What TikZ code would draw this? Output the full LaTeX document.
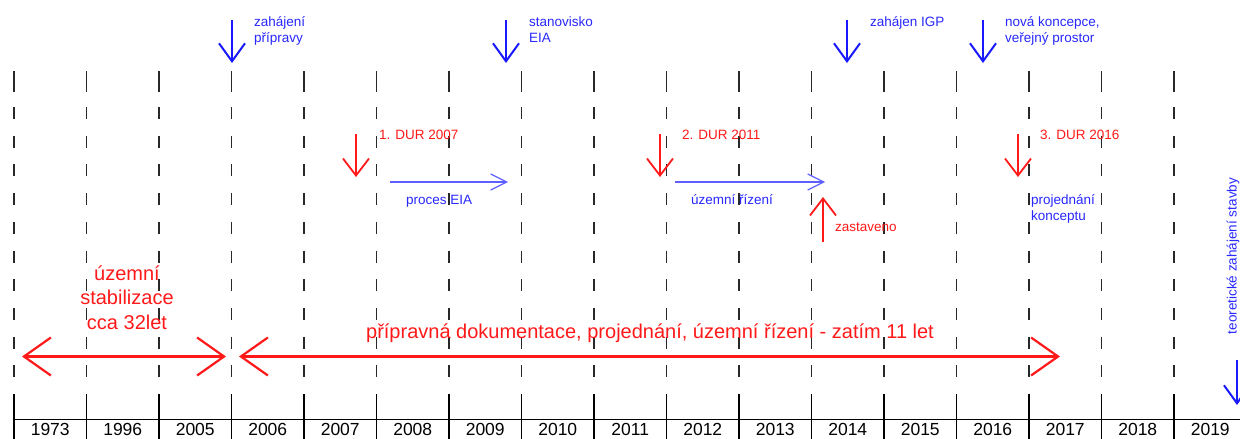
\documentclass[tikz,border=0pt]{standalone}
\usepackage{fontspec}
\setmainfont{Liberation Sans}
\usetikzlibrary{arrows.meta}
\definecolor{myblue}{RGB}{25,25,255}
\definecolor{lblue}{RGB}{95,95,255}
\definecolor{tblue}{RGB}{40,40,255}
\definecolor{myred}{RGB}{255,25,25}
\definecolor{dgray}{RGB}{40,40,40}
\newcommand{\twoline}[2]{\begin{tabular}[t]{@{}l@{}}#1\\#2\end{tabular}}
\begin{document}
\begin{tikzpicture}[x=1pt,y=-1pt,
  dl/.style={draw=dgray,line width=1.5pt},
  bigarrow/.style={draw=myred,line width=2.2pt,{Straight Barb[length=27pt,width=38pt]}-{Straight Barb[length=27pt,width=38pt]}},
  bluedown/.style={draw=myblue,line width=2pt,-{Straight Barb[length=18pt,width=26pt]}},
  reddown/.style={draw=myred,line width=1.8pt,-{Straight Barb[length=17pt,width=26pt]}},
  thinblue/.style={draw=lblue,line width=1.2pt,-{Straight Barb[length=16pt,width=16pt]}},
  small/.style={inner sep=0pt,anchor=base west,font=\fontsize{13.5}{16}\selectfont},
  bluelab/.style={small,text=tblue},
  redlab/.style={small,text=myred},
  year/.style={inner sep=0pt,anchor=base,font=\fontsize{17.5}{20}\selectfont,text=black},
  bigred/.style={inner sep=0pt,text=myred,font=\fontsize{20}{24.5}\selectfont}]
\useasboundingbox (0,0) rectangle (1240,439);
\fill[white] (0,0) rectangle (1240,439);
% dashed year lines
\foreach \i in {0,...,16}{
  \pgfmathsetmacro\xx{14+72.5*\i}
  \draw[dl] (\xx,71) -- (\xx,92);
  \draw[dl,dash pattern=on 12pt off 16.7pt] (\xx,107) -- (\xx,378);
  \draw[draw=black,line width=1.5pt] (\xx,394) -- (\xx,445);
}
% axis
\coordinate (axL) at (14,419.5);
\coordinate (axR) at (1241,419.5);
\draw[black,line width=1.5pt] (axL) -- (axR);
% year labels
\foreach \yr [count=\i from 0] in {1973,1996,2005,2006,2007,2008,2009,2010,2011,2012,2013,2014,2015,2016,2017,2018,2019}{
  \pgfmathsetmacro\xc{14+72.5*\i+36.25}
  \node[year] (y\i) at (\xc,435.8) {\yr};
}
% top blue arrows
\coordinate (b1s) at (232,20); \coordinate (b1e) at (232,63);
\coordinate (b2s) at (506,20); \coordinate (b2e) at (506,63);
\coordinate (b3s) at (847,20); \coordinate (b3e) at (847,63);
\coordinate (b4s) at (983,20); \coordinate (b4e) at (983,63);
\draw[bluedown] (b1s) -- (b1e);
\draw[bluedown] (b2s) -- (b2e);
\draw[bluedown] (b3s) -- (b3e);
\draw[bluedown] (b4s) -- (b4e);
\node[bluelab] (t1) at (254,27) {\twoline{zahájení}{přípravy}};
\node[bluelab] (t2) at (529,27) {\twoline{stanovisko}{EIA}};
\node[bluelab] (t3) at (870,27) {zahájen IGP};
\node[bluelab] (t4) at (1005,27) {\twoline{nová koncepce,}{veřejný prostor}};
% red DUR arrows
\coordinate (r1s) at (356,134); \coordinate (r1e) at (356,177);
\coordinate (r2s) at (660,134); \coordinate (r2e) at (660,177);
\coordinate (r3s) at (1018,134); \coordinate (r3e) at (1018,177);
\draw[reddown] (r1s) -- (r1e);
\draw[reddown] (r2s) -- (r2e);
\draw[reddown] (r3s) -- (r3e);
\node[redlab] (d1) at (379,139) {1. DUR 2007};
\node[redlab] (d2) at (682,139) {2. DUR 2011};
\node[redlab] (d3) at (1040,139) {3. DUR 2016};
% process arrows
\coordinate (p1s) at (390,182); \coordinate (p1e) at (508,182);
\coordinate (p2s) at (675,182); \coordinate (p2e) at (825,182);
\draw[thinblue] (p1s) -- (p1e);
\draw[thinblue] (p2s) -- (p2e);
\node[bluelab] (l1) at (406,204) {proces EIA};
\node[bluelab] (l2) at (691,204) {územní řízení};
\node[bluelab] (l3) at (1031,204) {\twoline{projednání}{konceptu}};
% zastaveno
\coordinate (zs) at (823,242); \coordinate (ze) at (823,197);
\draw[reddown] (zs) -- (ze);
\node[redlab] (zt) at (835,231) {zastaveno};
% right edge
\node[inner sep=0pt,rotate=90,text=tblue,font=\fontsize{13.5}{16}\selectfont] (teo) at (1233,256) {teoretické zahájení stavby};
\coordinate (es) at (1237,360); \coordinate (ee) at (1237,405);
\draw[bluedown] (es) -- (ee);
% big red arrows
\coordinate (g1a) at (22,356.5); \coordinate (g1b) at (226,356.5);
\coordinate (g2a) at (239,356.5); \coordinate (g2b) at (1060,356.5);
\draw[bigarrow] (g1a) -- (g1b);
\draw[bigarrow] (g2a) -- (g2b);
\node[bigred,align=center,anchor=base] (us) at (127,329) {územní\\stabilizace\\cca 32let};
\node[bigred,anchor=base] (pd) at (650,338) {přípravná dokumentace, projednání, územní řízení - zatím 11 let};
\end{tikzpicture}
\end{document}
